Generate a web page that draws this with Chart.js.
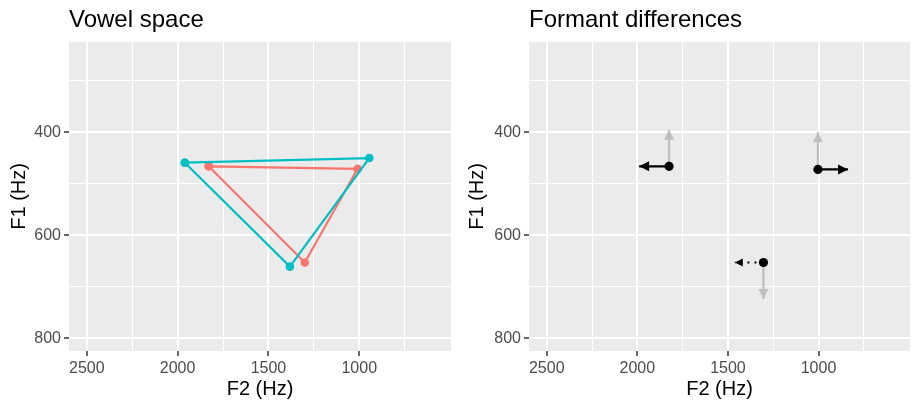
<!DOCTYPE html>
<html>
<head>
<meta charset="utf-8">
<script src="https://cdn.jsdelivr.net/npm/chart.js@4.4.1/dist/chart.umd.min.js"></script>
<style>
  html, body { margin: 0; padding: 0; background: #fff; }
  .panel { position: absolute; top: 0; width: 458px; height: 404px; }
</style>
</head>
<body>
<div class="panel" style="left:0"><canvas id="vowelChart"></canvas></div>
<div class="panel" style="left:458px"><canvas id="diffChart"></canvas></div>
<script>
// axes
const f2Min = 495, f2Max = 2598;
const f1Min = 224, f1Max = 825;
const f2Grid = [750, 1000, 1250, 1500, 1750, 2000, 2250, 2500];
const f2Labels = [2500, 2000, 1500, 1000];
const f1Grid = [300, 400, 500, 600, 700, 800];
const f1Labels = [400, 600, 800];

// vowel space (vowel triangle corners, in drawing order)
const vowels = ['front', 'back', 'low'];
const redF2 = [1829, 1009, 1300];
const redF1 = [466, 471, 653];
const tealF2 = [1960, 945, 1382];
const tealF1 = [459, 450, 661];

// formant differences: start points and arrow ends
const diffF2 = [1825, 1003, 1304];
const diffF1 = [466, 472, 653];
const f2ArrowEnd = [1990, 837, 1462];
const f2ArrowDash = [false, false, true];
const f1ArrowEnd = [395, 400, 724];

const RED = '#F8766D', TEAL = '#00BFC4', GREY = '#BEBEBE';
Chart.defaults.font.family = "'Liberation Sans', Arial, Helvetica, sans-serif";

const panelBg = {
  id: 'panelBg',
  beforeDraw(chart) {
    const a = chart.chartArea, ctx = chart.ctx;
    ctx.save();
    ctx.fillStyle = '#EBEBEB';
    ctx.fillRect(a.left, a.top, a.right - a.left, a.bottom - a.top);
    ctx.restore();
  }
};

const arrowHeads = {
  id: 'arrowHeads',
  afterDatasetsDraw(chart) {
    const ctx = chart.ctx;
    chart.data.datasets.forEach((ds, i) => {
      if (!ds.arrow) return;
      const pts = chart.getDatasetMeta(i).data;
      const p0 = pts[0], p1 = pts[1];
      const ang = Math.atan2(p1.y - p0.y, p1.x - p0.x);
      const len = ds.headLen || 10, half = ds.headHalf || 5;
      ctx.save();
      ctx.translate(p1.x, p1.y);
      ctx.rotate(ang);
      ctx.fillStyle = ds.borderColor;
      ctx.beginPath();
      ctx.moveTo(0, 0);
      ctx.lineTo(-len, -half);
      ctx.lineTo(-len, half);
      ctx.closePath();
      ctx.fill();
      ctx.restore();
    });
  }
};

function scales() {
  return {
    x: {
      type: 'linear', reverse: true, min: f2Min, max: f2Max,
      afterBuildTicks: s => { s.ticks = f2Grid.map(v => ({ value: v })); },
      afterFit: s => { s.height = 53; },
      border: { display: false },
      grid: {
        color: '#FFFFFF',
        lineWidth: c => f2Labels.includes(c.tick.value) ? 2 : 1,
        tickLength: 5, tickWidth: 1.5,
        tickColor: c => f2Labels.includes(c.tick.value) ? '#333333' : 'rgba(0,0,0,0)'
      },
      ticks: {
        autoSkip: false, maxRotation: 0, minRotation: 0, padding: 3,
        color: '#4D4D4D', font: { size: 16 },
        callback: v => f2Labels.includes(v) ? String(v) : ''
      },
      title: { display: true, text: 'F2 (Hz)', color: '#000', font: { size: 20 }, padding: { top: 0, bottom: 3 } }
    },
    y: {
      type: 'linear', reverse: true, min: f1Min, max: f1Max,
      afterBuildTicks: s => { s.ticks = f1Grid.map(v => ({ value: v })); },
      afterFit: s => { s.width = s.chart.canvas.dataset.left * 1; },
      border: { display: false },
      grid: {
        color: '#FFFFFF',
        lineWidth: c => f1Labels.includes(c.tick.value) ? 2 : 1,
        tickLength: 5, tickWidth: 1.5,
        tickColor: c => f1Labels.includes(c.tick.value) ? '#333333' : 'rgba(0,0,0,0)'
      },
      ticks: {
        autoSkip: false, padding: 3,
        color: '#4D4D4D', font: { size: 16 },
        callback: v => f1Labels.includes(v) ? String(v) : ''
      },
      title: { display: true, text: 'F1 (Hz)', color: '#000', font: { size: 20 }, padding: { top: 7, bottom: 0 } }
    }
  };
}

function options(title, rightPad) {
  return {
    responsive: true, maintainAspectRatio: false, animation: false,
    layout: { padding: { left: 0, right: rightPad, top: 0, bottom: 0 } },
    scales: scales(),
    plugins: {
      legend: { display: false },
      tooltip: { enabled: false },
      title: {
        display: true, text: title, align: 'start', fullSize: false,
        color: '#000', font: { size: 24, weight: 'normal' },
        padding: { top: 6, bottom: 7 }
      }
    }
  };
}

function loop(f2, f1) {
  const pts = f2.map((v, i) => ({ x: v, y: f1[i] }));
  pts.push(pts[0]);
  return pts;
}

document.getElementById('vowelChart').dataset.left = 69;
document.getElementById('diffChart').dataset.left = 71;

new Chart(document.getElementById('vowelChart'), {
  type: 'scatter',
  data: {
    datasets: [
      { label: 'teal', data: loop(tealF2, tealF1), showLine: true, borderColor: TEAL, backgroundColor: TEAL,
        borderWidth: 2.2, pointRadius: 4.3, pointBorderWidth: 0 },
      { label: 'red', data: loop(redF2, redF1), showLine: true, borderColor: RED, backgroundColor: RED,
        borderWidth: 2.2, pointRadius: 4.3, pointBorderWidth: 0 }
    ]
  },
  options: options('Vowel space', 7),
  plugins: [panelBg]
});

const diffSets = [
  { label: 'points', data: diffF2.map((v, i) => ({ x: v, y: diffF1[i] })), showLine: false,
    backgroundColor: '#000', borderColor: '#000', pointRadius: 4.6, pointBorderWidth: 0 }
];
diffF2.forEach((v, i) => {
  diffSets.push({
    label: 'F2 ' + vowels[i], data: [{ x: v, y: diffF1[i] }, { x: f2ArrowEnd[i], y: diffF1[i] }],
    showLine: true, arrow: true, borderColor: '#000', borderWidth: 2.2, pointRadius: 0,
    borderDash: f2ArrowDash[i] ? [2, 5] : [], headLen: f2ArrowDash[i] ? 8 : 10, headHalf: f2ArrowDash[i] ? 4 : 5
  });
});
diffF2.forEach((v, i) => {
  diffSets.push({
    label: 'F1 ' + vowels[i], data: [{ x: v, y: diffF1[i] }, { x: v, y: f1ArrowEnd[i] }],
    showLine: true, arrow: true, borderColor: GREY, borderWidth: 2.2, pointRadius: 0
  });
});

new Chart(document.getElementById('diffChart'), {
  type: 'scatter',
  data: { datasets: diffSets },
  options: options('Formant differences', 6),
  plugins: [panelBg, arrowHeads]
});
</script>
</body>
</html>
